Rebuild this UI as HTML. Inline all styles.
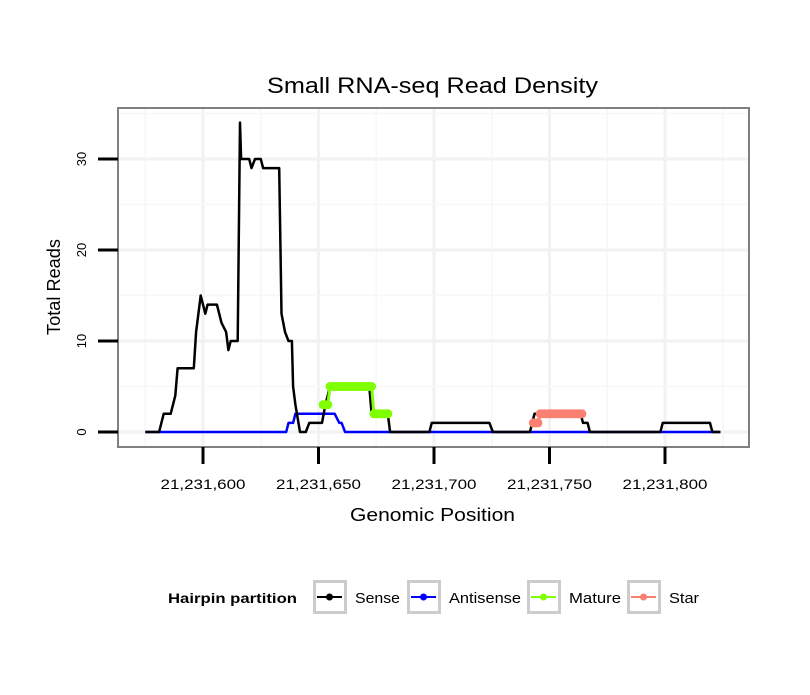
<!DOCTYPE html>
<html><head><meta charset="utf-8"><style>
body{margin:0;background:#fff;font-family:"Liberation Sans",sans-serif}
</style></head><body>
<svg id="chart" width="810" height="690" xmlns="http://www.w3.org/2000/svg" font-family="Liberation Sans, sans-serif">
<rect width="810" height="690" fill="#fff"/>
<text x="267" y="93" font-size="22" textLength="331" lengthAdjust="spacingAndGlyphs">Small RNA-seq Read Density</text>
<g id="grid"></g>
<g id="series"></g>
<rect x="118" y="108" width="631" height="339" fill="none" stroke="#808080" stroke-width="2"/>
<g id="axes"></g>
<text x="350" y="521" font-size="18" textLength="165" lengthAdjust="spacingAndGlyphs">Genomic Position</text>
<text transform="translate(60,335) rotate(-90)" font-size="18" textLength="96" lengthAdjust="spacingAndGlyphs">Total Reads</text>
<g id="legend">
<text x="168" y="603" font-size="14" font-weight="bold" textLength="129" lengthAdjust="spacingAndGlyphs">Hairpin partition</text>
</g>
</svg>
<script>
const base = 21231600;
const senseX = [-25,-19,-17,-14,-12,-11,-4,-3,-1,1,2,6,8,10,11,12,15,16,16.5,20,21,22.5,25,26,33,34,35.5,37,38.5,39,40,42,44.5,46,47,51.5,53,55,72,73,80,81,98,99,124,125.5,141.5,142.5,143.5,163.5,164.5,166.5,167.5,198,199,219.5,220.5,224];
const senseY = [0,0,2,2,4,7,7,11,15,13,14,14,12,11,9,10,10,34,30,30,29,30,30,29,29,13,11,10,10,5,3,0,0,1,1,1,3,5,5,2,2,0,0,1,1,0,0,1,2,2,1,1,0,0,1,1,0,0];
const antiX = [-25,36,37,39,40,57,59,60,61.5,224];
const antiY = [0,0,1,1,2,2,1,1,0,0];
const matureX = [52,53,54,55,56,57,58,59,60,61,62,63,64,65,66,67,68,69,70,71,72,73,74,75,76,77,78,79,80];
const matureY = [3,3,3,5,5,5,5,5,5,5,5,5,5,5,5,5,5,5,5,5,5,5,2,2,2,2,2,2,2];
const starX = [143,144,145,146,147,148,149,150,151,152,153,154,155,156,157,158,159,160,161,162,163,164];
const starY = [1,1,1,2,2,2,2,2,2,2,2,2,2,2,2,2,2,2,2,2,2,2];
const xTicks = [21231600,21231650,21231700,21231750,21231800];
const xTickLabels = ["21,231,600","21,231,650","21,231,700","21,231,750","21,231,800"];
const yTicks = [0,10,20,30];
const legendNames = ["Sense","Antisense","Mature","Star"];
const legendColors = ["#000000","#0000ff","#7fff00","#fa8072"];

const NS="http://www.w3.org/2000/svg";
const xs = o => 203 + o*2.31;
const xg = v => xs(v-base);
const ys = v => 432 - v*9.1;
function mk(tag, attrs, parent){const e=document.createElementNS(NS,tag);for(const k in attrs)e.setAttribute(k,attrs[k]);parent.appendChild(e);return e;}
const grid=document.getElementById('grid'), axes=document.getElementById('axes'), ser=document.getElementById('series'), leg=document.getElementById('legend');

for(let i=0;i<xTicks.length;i++){
  const x=xg(xTicks[i]);
  const g=mk('line',{x1:x,x2:x,y1:109,y2:446,stroke:'#f2f2f2','stroke-width':3},grid);
  
  
  const xm=xg(xTicks[i]-25);
  const m=mk('line',{x1:xm,x2:xm,y1:109,y2:446,stroke:'#f7f7f7','stroke-width':1.5},grid);
  
  
}
{const xm=xg(xTicks[xTicks.length-1]+25);const m=mk('line',{x1:xm,x2:xm,y1:109,y2:446,stroke:'#f7f7f7','stroke-width':1.5},grid);

}
for(let i=0;i<yTicks.length;i++){
  const y=ys(yTicks[i]);
  const g=mk('line',{x1:119,x2:748,y1:y,y2:y,stroke:'#f2f2f2','stroke-width':3},grid);
  
  
  const ym=ys(yTicks[i]+5);
  const m=mk('line',{x1:119,x2:748,y1:ym,y2:ym,stroke:'#f7f7f7','stroke-width':1.5},grid);
  
  
}
for(let i=0;i<xTicks.length;i++){
  const x=xg(xTicks[i]);
  const t=mk('line',{x1:x,x2:x,y1:447,y2:464,stroke:'#000','stroke-width':3},axes);
  
  
  const l=mk('text',{x:x-42.5,y:489,'font-size':14,textLength:85,lengthAdjust:'spacingAndGlyphs'},axes);
  l.textContent=xTickLabels[i];
  
  
}
for(let i=0;i<yTicks.length;i++){
  const y=ys(yTicks[i]);
  const t=mk('line',{x1:98,x2:118,y1:y,y2:y,stroke:'#000','stroke-width':3},axes);
  
  
  const l=mk('text',{'font-size':13,'text-anchor':'middle',transform:`translate(86,${y}) rotate(-90)`},axes);
  l.textContent=yTicks[i];
  
  
}
function line(X,Y,color,w,name){
  const d=X.map((x,i)=>(i?'L':'M')+xs(x).toFixed(1)+','+ys(Y[i]).toFixed(1)).join('');
  const p=mk('path',{d:d,fill:'none',stroke:color,'stroke-width':w,'stroke-linejoin':'round'},ser);
  
  
}
function pts(X,Y,color,name){
  line(X,Y,color,3,name+'-line');
  for(let i=0;i<X.length;i++){
    const c=mk('circle',{cx:xs(X[i]),cy:ys(Y[i]),r:4.5,fill:color},ser);
    
    
  }
}
line(antiX,antiY,'#0000ff',2.5,'antisense-line');
line(senseX,senseY,'#000000',2.5,'sense-line');
pts(matureX,matureY,'#7fff00','mature');
pts(starX,starY,'#fa8072','star');
const lx=[313,407,527,627];
const tl=[45,72,52,30];
for(let i=0;i<legendNames.length;i++){
  const b=mk('rect',{x:lx[i]+1.5,y:581.5,width:31,height:31,fill:'#fff',stroke:'#cccccc','stroke-width':3},leg);
  
  
  const l=mk('line',{x1:lx[i]+4,x2:lx[i]+29,y1:597,y2:597,stroke:legendColors[i],'stroke-width':2},leg);
  
  
  const c=mk('circle',{cx:lx[i]+16.5,cy:597,r:3.5,fill:legendColors[i]},leg);
  
  
  const t=mk('text',{x:lx[i]+42,y:603,'font-size':15,textLength:tl[i],lengthAdjust:'spacingAndGlyphs'},leg);
  t.textContent=legendNames[i];
  
  
}
</script>
</body></html>
